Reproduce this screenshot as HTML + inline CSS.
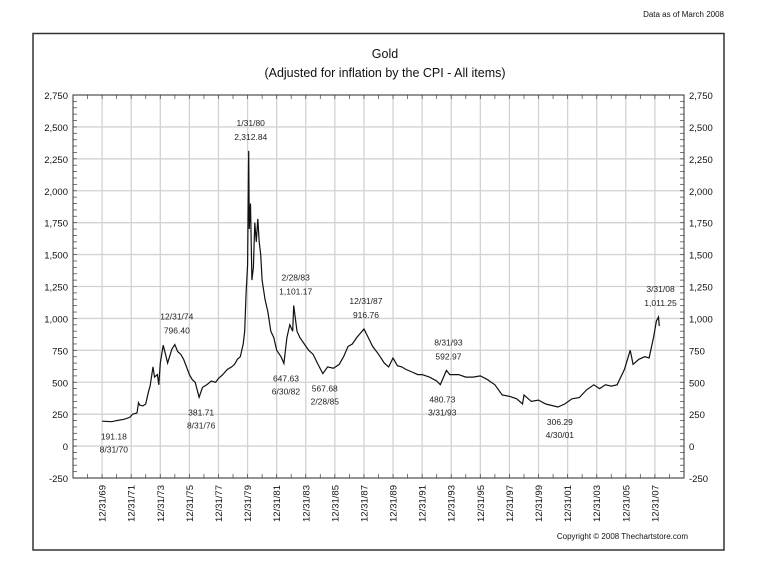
<!DOCTYPE html>
<html><head><meta charset="utf-8"><style>
body{margin:0;background:#fff;}
svg{display:block;font-family:"Liberation Sans",sans-serif;}
</style></head><body>
<svg id="chart" width="760" height="585" viewBox="0 0 760 585">
<text x="724" y="17" font-size="8" text-anchor="end" fill="#111">Data as of March 2008</text>
<rect x="33" y="33.5" width="691" height="516.5" fill="none" stroke="#333" stroke-width="1.5"/>
<text x="385" y="58" font-size="12.5" text-anchor="middle" fill="#111">Gold</text>
<text x="385" y="77" font-size="12.5" text-anchor="middle" fill="#111">(Adjusted for inflation by the CPI - All items)</text>
<g id="grid"></g><g id="axes"></g><g id="series"></g><g id="notes"></g>
<text x="688" y="539" font-size="8" text-anchor="end" fill="#111">Copyright © 2008 Thechartstore.com</text>
</svg>
<script>
const years=[1970,1970.67,1971,1971.5,1971.9,1972.1,1972.4,1972.5,1972.6,1972.8,1973,1973.2,1973.3,1973.5,1973.6,1973.8,1973.9,1974,1974.2,1974.4,1974.5,1974.8,1975,1975.2,1975.4,1975.6,1975.8,1976,1976.2,1976.4,1976.67,1976.9,1977.2,1977.5,1977.8,1978,1978.3,1978.6,1978.9,1979.1,1979.3,1979.5,1979.7,1979.8,1979.9,1980,1980.08,1980.12,1980.2,1980.3,1980.4,1980.5,1980.6,1980.7,1980.8,1980.9,1981,1981.2,1981.4,1981.6,1981.8,1982,1982.3,1982.5,1982.7,1982.9,1983.1,1983.17,1983.4,1983.6,1983.9,1984.2,1984.5,1984.8,1985.17,1985.5,1985.9,1986.3,1986.6,1986.9,1987.2,1987.5,1988,1988.3,1988.6,1989,1989.4,1989.7,1990,1990.3,1990.6,1990.9,1991.3,1991.7,1992,1992.5,1993,1993.25,1993.67,1993.9,1994.5,1995,1995.5,1996,1996.5,1997,1997.5,1998,1998.5,1998.9,1999,1999.5,2000,2000.5,2001.33,2001.8,2002.3,2002.8,2003.3,2003.8,2004.2,2004.6,2005,2005.4,2005.9,2006.3,2006.5,2006.9,2007.3,2007.6,2007.9,2008.1,2008.25,2008.3];
const values=[195,191,200,210,225,250,260,340,320,315,330,430,470,620,540,560,480,650,790,700,650,760,796,740,720,680,620,560,520,500,382,460,480,510,500,530,560,600,620,640,680,700,800,900,1200,1420,2312,1700,1900,1300,1400,1750,1600,1780,1600,1500,1300,1150,1050,900,850,750,700,648,850,950,900,1101,900,850,800,750,720,650,568,620,610,640,700,780,800,850,917,850,780,720,650,620,690,630,620,600,580,560,560,540,510,481,593,560,560,540,540,550,520,480,400,390,370,330,400,350,360,330,306,330,370,380,440,480,450,480,470,480,600,750,640,680,700,690,850,980,1011,940];
const yTicks=[-250,0,250,500,750,1000,1250,1500,1750,2000,2250,2500,2750];
const yTickLabels=["-250","0","250","500","750","1,000","1,250","1,500","1,750","2,000","2,250","2,500","2,750"];
const xTicks=[1970,1972,1974,1976,1978,1980,1982,1984,1986,1988,1990,1992,1994,1996,1998,2000,2002,2004,2006,2008];
const xTickLabels=["12/31/69","12/31/71","12/31/73","12/31/75","12/31/77","12/31/79","12/31/81","12/31/83","12/31/85","12/31/87","12/31/89","12/31/91","12/31/93","12/31/95","12/31/97","12/31/99","12/31/01","12/31/03","12/31/05","12/31/07"];
const noteDates=["1/31/80","2/28/83","12/31/74","12/31/87","6/30/82","2/28/85","8/31/76","8/31/70","8/31/93","3/31/93","4/30/01","3/31/08"];
const noteValues=["2,312.84","1,101.17","796.40","916.76","647.63","567.68","381.71","191.18","592.97","480.73","306.29","1,011.25"];
const noteYears=[1980.08,1983.17,1975,1988,1982.5,1985.17,1976.67,1970.67,1993.67,1993.25,2001.33,2008.25];
const noteAbove=[true,true,true,true,false,false,false,false,true,false,false,true];

const L=73,R=684,T=95,B=478,X0=1968,X1=2010,Y0=-250,Y1=2750;
const sx=t=>L+(t-X0)/(X1-X0)*(R-L);
const sy=v=>B-(v-Y0)/(Y1-Y0)*(B-T);
const NS="http://www.w3.org/2000/svg";
function mk(p,tag,at){const e=document.createElementNS(NS,tag);for(const k in at)e.setAttribute(k,at[k]);p.appendChild(e);return e;}
const grid=document.getElementById('grid'),axes=document.getElementById('axes'),series=document.getElementById('series'),notes=document.getElementById('notes');
mk(grid,'rect',{x:L,y:T,width:R-L,height:B-T,fill:'#fff'});
yTicks.forEach((v,i)=>{
  const g=mk(grid,'line',{x1:L,x2:R,y1:sy(v),y2:sy(v),stroke:'#d2d2d2','stroke-width':1.3});
  
  
  const a=mk(axes,'text',{x:L-5,y:sy(v)+4,'font-size':9.5,'text-anchor':'end',fill:'#111'});a.textContent=yTickLabels[i];
  
  
  const b=mk(axes,'text',{x:R+5,y:sy(v)+4,'font-size':9.5,fill:'#111'});b.textContent=yTickLabels[i];
  
  
});
for(let v=Y0;v<=Y1;v+=50){[[L,L+4],[R-4,R]].forEach(([a,b])=>mk(axes,'line',{x1:a,x2:b,y1:sy(v),y2:sy(v),stroke:'#555','stroke-width':0.8}));}
for(let t=X0;t<=X1;t++){[[T,T+4],[B-4,B]].forEach(([a,b])=>mk(axes,'line',{x1:sx(t),x2:sx(t),y1:a,y2:b,stroke:'#555','stroke-width':0.8}));}
xTicks.forEach((t,i)=>{
  const g=mk(grid,'line',{x1:sx(t),x2:sx(t),y1:T,y2:B,stroke:'#d2d2d2','stroke-width':1.3});
  
  
  const x=sx(t)+3.5;
  const a=mk(axes,'text',{x:x,y:485,'font-size':9.5,'text-anchor':'end',fill:'#111',transform:`rotate(-90 ${x} 485)`});a.textContent=xTickLabels[i];
  
  
});
const ax=mk(axes,'rect',{x:L,y:T,width:R-L,height:B-T,fill:'none',stroke:'#333','stroke-width':1});


const line=mk(series,'polyline',{points:years.map((t,i)=>sx(t).toFixed(1)+','+sy(values[i]).toFixed(1)).join(' '),fill:'none',stroke:'#111','stroke-width':1.2,'stroke-linejoin':'miter'});


noteDates.forEach((d,i)=>{
  const v=parseFloat(noteValues[i].replace(/,/g,''));
  const x=sx(noteYears[i])+2,y=sy(v);
  let l1,l2,y1,y2;
  if(noteAbove[i]){l1=d;l2=noteValues[i];y2=y-11;y1=y2-14;}else{l1=noteValues[i];l2=d;y1=y+18;y2=y1+13;}
  const a=mk(notes,'text',{x:x,y:y1,'font-size':8.5,'text-anchor':'middle',fill:'#222'});a.textContent=l1;
  
  
  const b=mk(notes,'text',{x:x,y:y2,'font-size':8.5,'text-anchor':'middle',fill:'#222'});b.textContent=l2;
  
  
});
</script>
</body></html>
